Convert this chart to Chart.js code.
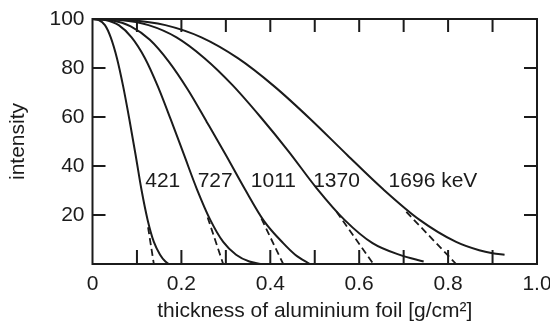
<!DOCTYPE html>
<html><head><meta charset="utf-8">
<script src="https://cdn.jsdelivr.net/npm/chart.js@4.4.1/dist/chart.umd.min.js"></script>
<style>html,body{margin:0;padding:0;background:#fff}#wrap{width:550px;height:331px}</style>
</head><body><div id="wrap"><canvas id="c" width="550" height="331"></canvas></div>
<script>
// ---- data ----
const curveLabels = ['421', '727', '1011', '1370', '1696 keV'];
const labelX = [0.158, 0.276, 0.407, 0.549, 0.766];
const labelY = [33.7, 33.7, 33.7, 33.7, 33.7];

const x421 = [0, 0.014, 0.028, 0.041, 0.055, 0.069, 0.083, 0.097, 0.110, 0.124, 0.138, 0.152, 0.164, 0.172];
const y421 = [100, 99.6, 97.5, 92.5, 84, 72.5, 59, 44.5, 30.5, 18, 9, 3.8, 1, 0];
const x727 = [0, 0.029, 0.059, 0.088, 0.118, 0.147, 0.176, 0.206, 0.235, 0.265, 0.294, 0.323, 0.353, 0.378];
const y727 = [100, 99.6, 97.5, 92.5, 84, 72.5, 59, 44.5, 30.5, 18, 9, 3.8, 1, 0];
const x1011 = [0, 0.043, 0.086, 0.129, 0.172, 0.215, 0.257, 0.300, 0.343, 0.386, 0.429, 0.456, 0.489];
const y1011 = [100, 99.5, 97, 91.5, 82.5, 71, 58, 44.5, 30.5, 17.5, 8.5, 3.8, 0];
const x1370 = [0, 0.063, 0.126, 0.189, 0.252, 0.315, 0.378, 0.441, 0.504, 0.567, 0.630, 0.693, 0.745];
const y1370 = [100, 99.6, 97.5, 92.5, 84, 73, 60, 46, 31, 18, 8.5, 3.6, 1];
const x1696 = [0, 0.082, 0.164, 0.245, 0.327, 0.409, 0.491, 0.573, 0.654, 0.736, 0.818, 0.870, 0.900, 0.927];
const y1696 = [100, 99.6, 97.5, 92.5, 84, 72.5, 59, 44.5, 30.5, 18, 9, 5.6, 4.4, 3.8];

// extrapolated-range (dashed) lines
const dashX = [[0.125, 0.138], [0.259, 0.294], [0.380, 0.429], [0.549, 0.632], [0.706, 0.818]];
const dashY = [[15, 0], [19, 0], [18.5, 0], [21.3, 0], [21.3, 0]];

const xMinorTicks = [0.1, 0.2, 0.3, 0.4, 0.5, 0.6, 0.7, 0.8, 0.9];
const yMinorTicks = [20, 40, 60, 80];

// ---- build ----
const pts = (xs, ys) => xs.map((x, i) => ({x: x, y: ys[i]}));
const ink = '#1b1b1b';
const solidSets = [[x421, y421], [x727, y727], [x1011, y1011], [x1370, y1370], [x1696, y1696]].map((s, i) => ({
  label: curveLabels[i], data: pts(s[0], s[1]), borderColor: ink, borderWidth: 2,
  pointRadius: 0, fill: false, cubicInterpolationMode: 'monotone'
}));
const dashSets = dashX.map((xs, i) => ({
  label: curveLabels[i] + ' range', data: pts(xs, dashY[i]), borderColor: ink, borderWidth: 1.8,
  borderDash: [7, 4], pointRadius: 0, fill: false, tension: 0
}));

const FONT = 'Liberation Sans, Arial, sans-serif';
const FS = 21;

const framePlugin = {
  id: 'frame',
  afterDatasetsDraw(chart) {
    const {ctx, chartArea: a, scales: {x, y}} = chart;
    ctx.save();
    ctx.strokeStyle = ink; ctx.lineWidth = 2;
    ctx.strokeRect(a.left, a.top, a.right - a.left, a.bottom - a.top);
    ctx.beginPath();
    xMinorTicks.forEach(v => {
      const px = x.getPixelForValue(v);
      ctx.moveTo(px, a.top); ctx.lineTo(px, a.top + 13);
      ctx.moveTo(px, a.bottom); ctx.lineTo(px, a.bottom - 14);
    });
    yMinorTicks.forEach(v => {
      const py = y.getPixelForValue(v);
      ctx.moveTo(a.left, py); ctx.lineTo(a.left + 13, py);
      ctx.moveTo(a.right, py); ctx.lineTo(a.right - 13, py);
    });
    ctx.stroke();
    ctx.fillStyle = ink;
    ctx.font = FS + 'px ' + FONT;
    ctx.textAlign = 'center'; ctx.textBaseline = 'middle';
    curveLabels.forEach((t, i) => {
      ctx.fillText(t, x.getPixelForValue(labelX[i]), y.getPixelForValue(labelY[i]));
    });
    ctx.restore();
  }
};

new Chart(document.getElementById('c'), {
  type: 'line',
  data: {datasets: solidSets.concat(dashSets)},
  options: {
    responsive: false, animation: false, devicePixelRatio: 1,
    layout: {padding: {left: 0, top: 19, right: 13, bottom: 0}},
    plugins: {legend: {display: false}, tooltip: {enabled: false}},
    scales: {
      x: {
        type: 'linear', min: 0, max: 1,
        grid: {display: false, drawTicks: false}, border: {display: false},
        ticks: {stepSize: 0.2, padding: 8, color: ink, font: {size: FS, family: FONT},
          callback: v => (Math.abs(v) < 1e-9 ? '0' : Number(v).toFixed(1))},
        title: {display: true, text: 'thickness of aluminium foil [g/cm²]', color: ink,
          font: {size: FS, family: FONT}, padding: {top: 0, bottom: 7}},
        afterFit: s => { s.height = 67; s.paddingLeft = 0; s.paddingRight = 0; }
      },
      y: {
        type: 'linear', min: 0, max: 100,
        grid: {display: false, drawTicks: false}, border: {display: false},
        ticks: {stepSize: 20, padding: 8, color: ink, font: {size: FS, family: FONT},
          callback: v => (v === 0 ? '' : String(v))},
        title: {display: true, text: 'intensity', color: ink,
          font: {size: FS, family: FONT}, padding: {top: 6, bottom: 0}},
        afterFit: s => { s.width = 92.5; s.paddingTop = 0; s.paddingBottom = 0; }
      }
    }
  },
  plugins: [framePlugin]
});
</script>
</body></html>
